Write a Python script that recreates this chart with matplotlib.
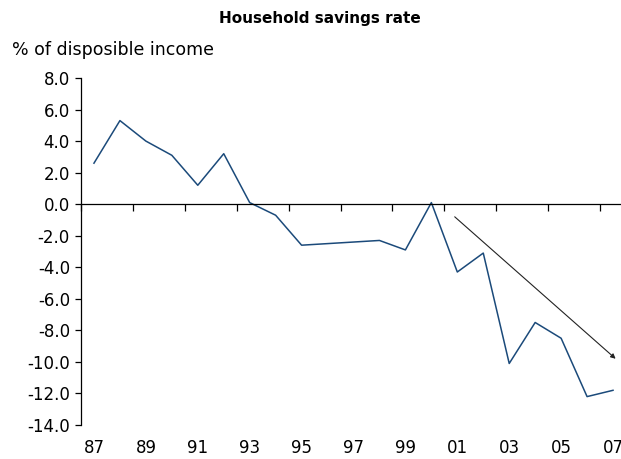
#!/bin/python3

import matplotlib
matplotlib.use('Agg')
import matplotlib.pyplot as plt

plt.rcParams['font.family'] = ['DejaVu Sans']
plt.rcParams['axes.unicode_minus'] = False

# data (household savings rate, % of disposable income)
years = ['87', '88', '89', '90', '91', '92', '93', '94', '95', '96', '97',
         '98', '99', '00', '01', '02', '03', '04', '05', '06', '07']
savings = [2.6, 5.3, 4.0, 3.1, 1.2, 3.2, 0.1, -0.7, -2.6, -2.5, -2.4,
           -2.3, -2.9, 0.1, -4.3, -3.1, -10.1, -7.5, -8.5, -12.2, -11.8]

# trend arrow endpoints (category index, value)
arrow_start = (13.9, -0.8)
arrow_end = (20.1, -9.8)

title = 'Household savings rate'
y_label = '% of disposible income'

fig = plt.figure(figsize=(6.21, 4.59), dpi=100)
ax = fig.add_axes([81 / 621, 1 - 425 / 459, 545 / 621, 347 / 459])

x = list(range(len(years)))
ax.plot(x, savings, color='#1b4a7a', linewidth=1.1, clip_on=False)

ax.annotate('', xy=arrow_end, xytext=arrow_start,
            arrowprops=dict(arrowstyle='-|>', color='#222222', lw=0.8,
                            mutation_scale=7, shrinkA=0, shrinkB=0))

ax.set_xlim(-0.5, len(years) - 0.5)
ax.set_ylim(-14, 8)

# spines: left axis plus a zero line carrying the category ticks
ax.spines['top'].set_visible(False)
ax.spines['right'].set_visible(False)
ax.spines['bottom'].set_position(('data', 0))
ax.spines['left'].set_linewidth(0.9)
ax.spines['bottom'].set_linewidth(0.9)

ax.set_yticks(range(-14, 9, 2))
ax.set_yticklabels(['%.1f' % v for v in range(-14, 9, 2)], fontsize=12)
ax.tick_params(axis='y', direction='out', length=4, width=0.9, pad=4)

ax.set_xticks([i - 0.5 for i in range(0, len(years), 2)])
ax.set_xticklabels([])
ax.tick_params(axis='x', direction='out', length=5, width=0.9)

# category labels along the bottom
for i in range(0, len(years), 2):
    ax.text(i, -0.066, years[i], transform=ax.get_xaxis_transform(),
            ha='center', va='center', fontsize=12, clip_on=False)

fig.text(320 / 621, 1 - 18 / 459, title, ha='center', va='center',
         fontsize=11, fontweight='bold')
fig.text(12 / 621, 1 - 50 / 459, y_label, ha='left', va='center', fontsize=12.5)

fig.savefig('out.png', dpi=100)
